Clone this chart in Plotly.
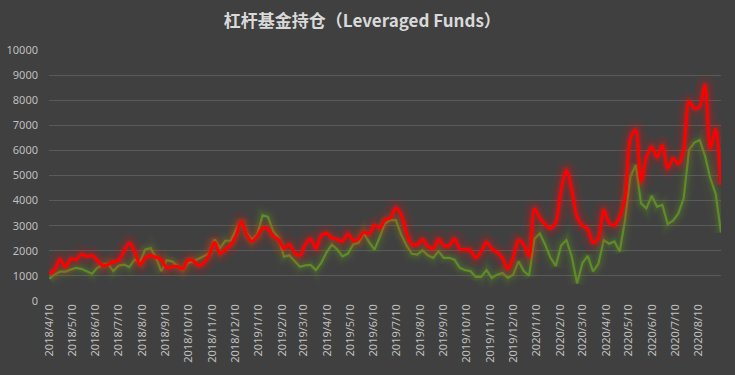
import pandas as pd
import plotly.graph_objects as go

start_date = "2018-04-10"
n_weeks = 127

red_values = [
    1080, 1250, 1650, 1360, 1680, 1650, 1850, 1780, 1810, 1620,
    1410, 1450, 1570, 1620, 1980, 2310, 1980, 1450, 1720, 1810,
    1740, 1650, 1320, 1360, 1385, 1280, 1620, 1610, 1410, 1520,
    1850, 2340, 1890, 2050, 2220, 2580, 3180, 2650, 2380, 2580,
    2890, 2870, 2580, 2450, 2090, 2250, 1920, 1810, 2250, 2470,
    2090, 2610, 2690, 2520, 2450, 2380, 2670, 2420, 2470, 2740,
    2690, 3020, 2910, 3240, 3310, 3710, 3440, 2710, 2270, 2250,
    2450, 2180, 2090, 2450, 2210, 2210, 2470, 2080, 2050, 2020,
    1720, 1980, 2340, 2080, 1940, 1720, 1280, 1720, 2420, 2250,
    1780, 3670, 3310, 3050, 2900, 3120, 4420, 5220, 4420, 3360,
    3010, 2860, 2330, 2500, 3630, 3120, 3020, 3360, 4090, 6480,
    6810, 4760, 5720, 6150, 5720, 6210, 5290, 5680, 5460, 6020,
    7940, 7670, 7740, 8600, 6080, 6840, 4620,
]

green_values = [
    890, 1050, 1170, 1170, 1250, 1320, 1280, 1190, 1090, 1320,
    1440, 1480, 1190, 1410, 1450, 1350, 1650, 1580, 2050, 2100,
    1720, 1190, 1620, 1580, 1410, 1250, 1520, 1580, 1680, 1780,
    1890, 2450, 2110, 2400, 2400, 2840, 3170, 2710, 2450, 2650,
    3420, 3350, 2780, 2520, 1770, 1820, 1590, 1360, 1420, 1440,
    1230, 1520, 1940, 2250, 2050, 1780, 1890, 2250, 2320, 2690,
    2340, 2050, 2560, 3090, 3220, 3220, 2650, 2210, 1880, 1850,
    2020, 1820, 1720, 1980, 1720, 1720, 1650, 1320, 1230, 1190,
    960, 960, 1230, 920, 1050, 1120, 920, 1050, 1580, 1190,
    1010, 2470, 2690, 2250, 1730, 1400, 2210, 2430, 1770, 710,
    1510, 1800, 1180, 1480, 2430, 2280, 2370, 1970, 3230, 4950,
    5420, 3890, 3690, 4190, 3760, 3830, 3070, 3200, 3490, 4090,
    6020, 6310, 6410, 5780, 4890, 4270, 2730,
]

tick_dates = pd.date_range("2018-04-01", "2020-08-01", freq="MS") + pd.Timedelta(days=9)
tick_labels = [f"{d.year}/{d.month}/{d.day}" for d in tick_dates]

y_ticks = list(range(0, 10001, 1000))
y_tick_labels = [str(v) for v in y_ticks]

dates = pd.date_range(start_date, periods=n_weeks, freq="7D")

fig = go.Figure()

def add_glow(y, rgb, shape, widths, alphas):
    for w, a in zip(widths, alphas):
        fig.add_trace(go.Scatter(
            x=dates, y=y, mode="lines",
            line=dict(color=f"rgba({rgb},{a})", width=w, shape=shape, smoothing=0.8),
            hoverinfo="skip", showlegend=False,
        ))

add_glow(green_values, "95,140,40", "linear", [18, 13, 9, 6], [0.05, 0.07, 0.09, 0.12])
fig.add_trace(go.Scatter(
    x=dates, y=green_values, mode="lines",
    line=dict(color="#5f8c28", width=2.2),
    showlegend=False,
))
add_glow(red_values, "255,20,20", "spline", [20, 15, 10, 7], [0.05, 0.07, 0.09, 0.13])
fig.add_trace(go.Scatter(
    x=dates, y=red_values, mode="lines",
    line=dict(color="#ff0000", width=3, shape="spline", smoothing=0.8),
    showlegend=False,
))

fig.update_layout(
    width=735, height=375,
    paper_bgcolor="#404040", plot_bgcolor="#404040",
    margin=dict(l=49, r=14, t=50, b=74, autoexpand=False),
    title=dict(
        text="<b>杠杆基金持仓（Leveraged Funds）</b>",
        x=0.493, xanchor="center", y=0.945, yanchor="middle",
        font=dict(family="Noto Sans CJK SC, Noto Sans, sans-serif", size=17, color="#d9d9d9"),
    ),
    font=dict(family="Noto Sans, DejaVu Sans, sans-serif", size=11, color="#bfbfbf"),
    xaxis=dict(
        type="date", automargin=False,
        range=[dates[0] - pd.Timedelta(hours=12), dates[-1]],
        tickvals=list(tick_dates), ticktext=tick_labels,
        tickangle=-90, showgrid=False, zeroline=False, showline=False,
        ticks="", tickfont=dict(size=11, color="#bfbfbf"),
    ),
    yaxis=dict(
        automargin=False,
        range=[0, 10000], tickvals=y_ticks, ticktext=y_tick_labels,
        showgrid=True, gridcolor="#5a5a5a", gridwidth=1,
        zeroline=False, showline=False, ticks="", ticklabelstandoff=10,
        tickfont=dict(size=11, color="#bfbfbf"),
    ),
)

fig.write_html(
    "out.html",
    config={"displayModeBar": False},
    post_script="document.body.style.margin='0';document.body.style.background='#404040';",
)
